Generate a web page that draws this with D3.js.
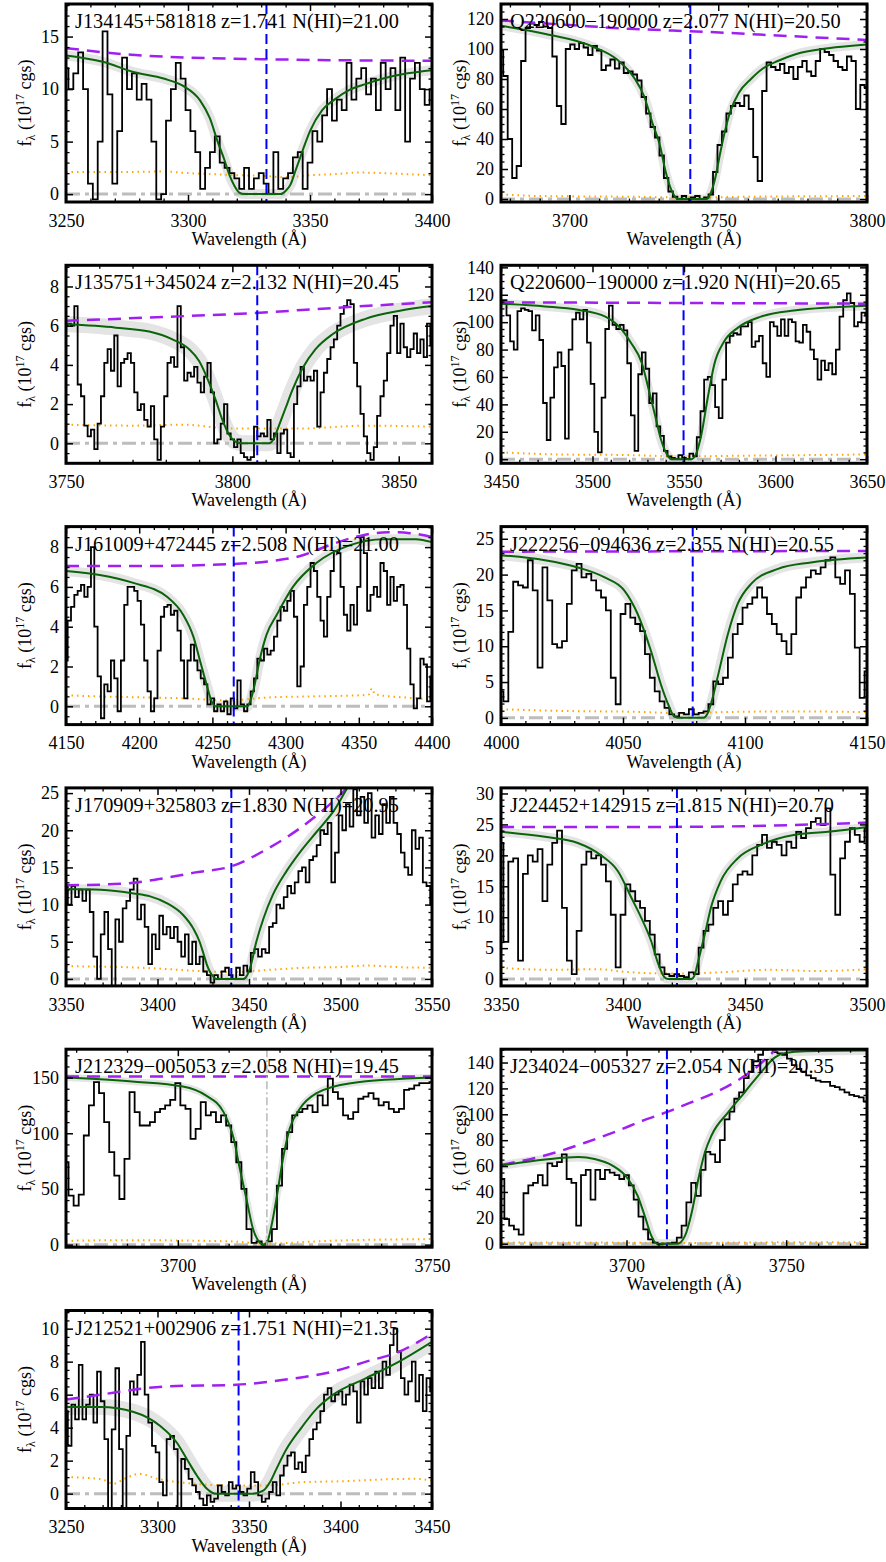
<!DOCTYPE html>
<html>
<head>
<meta charset="utf-8">
<script src="https://cdn.jsdelivr.net/npm/d3@7"></script>
<style>
  body { margin: 0; background: #fff; }
  svg text { font-family: "Liberation Serif", "Times New Roman", serif; fill: #000; }
</style>
</head>
<body>
<svg id="chart"></svg>
<script>
const LYA_REST = 1215.67

// one entry per panel, reading order (left to right, top to bottom)
const QSO_NAMES = ['J134145+581818', 'Q220600\u2212190000', 'J135751+345024', 'Q220600\u2212190000', 'J161009+472445',
  'J222256\u2212094636', 'J170909+325803', 'J224452+142915', 'J212329\u2212005053', 'J234024\u2212005327', 'J212521+002906']
const ABS_Z = [1.741, 2.077, 2.132, 1.920, 2.508, 2.355, 1.830, 1.815, 2.058, 2.054, 1.751]
const LOG_NHI = [21.00, 20.50, 20.45, 20.65, 21.00, 20.55, 20.95, 20.70, 19.45, 20.35, 21.35]

const X_RANGES = [[3250, 3400], [3677, 3800], [3750, 3860], [3450, 3650], [4150, 4400], [4000, 4150],
  [3350, 3550], [3350, 3500], [3678, 3750], [3660.7, 3775.3], [3250, 3450]]
const Y_RANGES = [[-0.75, 18.1], [-2, 130], [-1.02, 9.08], [-3, 141.5], [-0.92, 9.03], [-0.94, 26.7],
  [-0.94, 25.7], [-1.1, 30.9], [-2.3, 175.5], [-2.7, 150.3], [-0.9, 11.1]]
const X_TICKS = [[3250, 3300, 3350, 3400], [3700, 3750, 3800], [3750, 3800, 3850], [3450, 3500, 3550, 3600, 3650],
  [4150, 4200, 4250, 4300, 4350, 4400], [4000, 4050, 4100, 4150], [3350, 3400, 3450, 3500, 3550],
  [3350, 3400, 3450, 3500], [3700, 3750], [3700, 3750], [3250, 3300, 3350, 3400, 3450]]
const Y_TICKS = [[0, 5, 10, 15], [0, 20, 40, 60, 80, 100, 120], [0, 2, 4, 6, 8], [0, 20, 40, 60, 80, 100, 120, 140],
  [0, 2, 4, 6, 8], [0, 5, 10, 15, 20, 25], [0, 5, 10, 15, 20, 25], [0, 5, 10, 15, 20, 25, 30],
  [0, 50, 100, 150], [0, 20, 40, 60, 80, 100, 120, 140], [0, 2, 4, 6, 8, 10]]
const X_MINOR = [10, 10, 10, 10, 10, 10, 10, 10, 10, 10, 10]
const Y_MINOR = [1, 5, 0.5, 5, 0.5, 1, 1, 1, 10, 5, 0.5]

// spectra: wavelength of first pixel, pixel width (A), flux (1e-17 cgs)
const SPEC_START = [3250, 3677, 3750, 3450, 4150, 4000, 3350, 3350, 3678, 3661, 3250]
const SPEC_STEP = [2, 1.5, 1, 2, 2.2727, 2, 2, 2, 1, 1.5, 2]

const FLUX_1 = [12, 10, 11.5, 13.5, 10, 1, -0.5, 5, 15.5, 9.5, 1, 6, 13, 10, 11.5, 9, 10.5, 9, 5, -0.5,
  0, 7, 10, 12.5, 11, 8, 6, 4, 0.5, 2.5, 4, 5.5, 3, 2.5, 2, 1.5, 0.5, 2.5, 0.5, 1.5,
  2, 1, 0, 4, 0.5, 1.5, 2, 3.5, 4, 0.5, 3, 6, 5, 7.5, 10, 7, 9, 8, 12.5, 9,
  11, 12, 9.5, 11, 8, 12.5, 10, 12, 8, 13, 5, 11, 12.5, 10, 8.5, 10]
const FLUX_2 = [99, 82, 40, 14, 22, 92, 114, 117, 116, 118, 115, 114, 95, 62, 50, 100, 103, 100, 104, 101,
  96, 102, 99, 86, 89, 93, 87, 91, 84, 85, 83, 79, 68, 57, 48, 41, 29, 14, 5, 1.5,
  0, 2, 0, 1, 2, 0, 1, 3, 18, 36, 45, 57, 62, 64, 62, 69, 60, 28, 12, 72,
  91, 88, 86, 90, 84, 88, 80, 88, 92, 85, 82, 92, 100, 98, 96, 92, 88, 86, 95, 92, 60, 76, 74]
const FLUX_3 = [6.0, 6.1, 6.0, 7.0, 3.0, 2.4, 0.9, 0.35, 0.7, -0.3, 1.0, 2.4, 4.1, 4.8, 3.7, 5.5, 2.9, 4.1, 4.3, 4.6,
  4.1, 2.6, 1.7, 2.0, 1.2, 0.85, 1.9, 0.2, -0.85, 0.85, 2.4, 4.1, 4.4, 3.9, 7.0, 4.9, 3.2, 3.6, 3.4, 3.9,
  3.1, 2.6, 3.4, 4.1, 2.6, 0, 0.2, 1.0, 2.0, 0.5, 0.2, -0.2, 0.2, -0.5, -0.7, -0.85, -0.7, 0.85, 0.35, 0.5,
  0.35, 1.2, 0.2, 0.5, -0.5, 0.5, 0.7, -0.5, -0.7, 2.0, 2.9, 3.9, 3.2, 3.4, 3.2, 3.7, 0.85, 2.6, 3.6, 4.3,
  4.9, 5.3, 6.0, 6.6, 7.0, 7.3, 7.1, 4.1, 2.9, 1.5, 0.35, -0.5, -0.85, -0.2, 1.4, 2.4, 3.2, 4.6, 6.0, 6.5,
  4.6, 6.1, 4.9, 4.4, 4.8, 5.6, 4.6, 5.3, 4.4, 6.1, 5.0]
const FLUX_4 = [114, 116, 105, 86, 80, 108, 110, 109, 108, 94, 105, 87, 41, 14, 45, 67, 78, 68, 15, 80,
  102, 107, 102, 109, 85, 55, 20, 5, 45, 95, 112, 98, 95, 98, 94, 70, 32, 6, 62, 78,
  66, 41, 48, 24, 17, 6, 2, 1, 0, 3, 1, 0, 4, 2, 16, 35, 58, 60, 54, 38,
  30, 58, 85, 90, 92, 91, 97, 97, 100, 82, 86, 90, 70, 60, 100, 97, 90, 102, 90, 102,
  100, 86, 85, 98, 93, 80, 73, 58, 72, 65, 70, 62, 80, 104, 116, 121, 114, 97, 100, 107, 105]
const FLUX_5 = [2.3, 4.3, 5.0, 5.6, 5.8, 6.1, 5.5, 6.0, 8.0, 4.0, 1.5, -0.6, 1.1, 0.75, 2.3, 1.4, -0.25, 2.3, 5.1, 6.0,
  6.0, 5.8, 5.3, 4.1, 2.3, 0.75, -0.25, 0.4, 2.8, 4.5, 5.0, 5.1, 4.6, 4.8, 3.8, 2.3, 0.4, 2.3, 3.1, 2.3,
  1.8, 1.4, 1.1, 0.1, 0.4, -0.25, 0.1, -0.25, 0.25, -0.4, 0.4, -0.1, 1.3, 0.1, -0.25, 0.1, 0.75, 1.4, 2.4, 2.3,
  2.9, 2.6, 2.8, 3.5, 4.3, 5.0, 4.8, 5.3, 5.8, 4.5, 1.0, 2.0, 5.1, 6.0, 7.2, 6.8, 5.5, 4.3, 3.5, 5.5,
  6.8, 7.8, 7.7, 6.0, 4.6, 3.8, 5.1, 4.1, 6.0, 8.5, 7.7, 4.8, 5.6, 6.0, 5.5, 7.2, 6.8, 5.1, 6.5, 5.3,
  6.0, 6.1, 5.1, 2.9, 1.1, -0.1, 0.4, 2.4, 2.1, 0.25, 1.5]
const FLUX_6 = [3.7, 2.3, 12, 19, 18.5, 18.2, 22, 17.8, 7, 21, 16.4, 10.3, 9.8, 10.7, 15.9, 20.6, 21.5, 19.6, 20.1, 19.2,
  17.8, 16.8, 15, 5.6, 1.9, 14.5, 15.9, 14, 13.1, 12.1, 8.9, 5.6, 3.7, 2.3, 1.4, 0.5, 0.2, 0.7, 0.5, 1.2,
  0.5, 0.7, 0.9, 1.9, 5.1, 4.7, 5.6, 8.4, 11.7, 13.1, 15.4, 15.9, 16.8, 18.2, 16.8, 14.5, 13.1, 11.7, 10.7, 8.9,
  11.7, 16.8, 18.2, 19.6, 20.6, 20.1, 21, 22, 22.4, 19.6, 18.7, 20.6, 17.3, 9.8, 2.8, 6.5]
const FLUX_7 = [12.5, 10, 12.5, 11, 12, 10.5, 12, 9, 3, 0, 6, 9, 4, -1, 8, 5, 9.5, 10.5, 12, 13.5,
  8, 10, 7, 2, 6, 4, 8.5, 6, 7, 5.5, 7, 5, 3, 6, 2, 5, 2, 3, 1, 0.5,
  -0.5, 0.5, 0, 1, 1.5, 0.5, 0, 1.5, 0.5, 1.8, 1, 3.5, 4, 3, 4, 3.5, 7, 7.5, 10, 9.5,
  11, 12.5, 11.5, 13, 14.5, 15, 13, 16, 16.5, 18, 20, 19.5, 21, 13, 17, 22, 20, 23.5, 20.5, 25.5,
  22, 24.5, 21, 25, 19, 22, 19.5, 23.5, 21, 24.5, 21, 19.5, 17, 15, 14, 20, 17.5, 19, 13, 12.5, 10]
const FLUX_8 = [22, 6, 19, 19.5, 3, 17, 20, 19, 21, 12.6, 18.5, 22, 24, 11.5, 3, 0.8, 7.8, 18.5, 20.6, 19.5,
  20, 18.5, 15.8, 10.4, 1.9, 10.4, 15.3, 14.2, 12.6, 11.5, 9.4, 7.2, 4, 1.9, 0.8, 0.5, 0.8, 0.5, 0.3, 1.1,
  0.8, 5.1, 7.8, 8.8, 11.5, 12.6, 10.4, 12.6, 15.3, 16.9, 17.4, 16.9, 20, 21.7, 23.3, 21.2, 22.2, 21.7, 20, 22.2,
  21.2, 23.8, 22.8, 24.4, 25.4, 26, 24.9, 27.6, 16.9, 10.4, 19.5, 22.2, 24.4, 23.3, 22.2, 24.4]
const FLUX_9 = [74, 44, 35, 45, 98, 125, 146, 136, 110, 83, 62, 41, 77, 137, 119, 107, 107, 110, 119, 122,
  125, 130, 145, 125, 122, 95, 104, 128, 116, 119, 110, 116, 107, 92, 74, 50, 14, 1.5, 3, 0,
  3, 14, 53, 86, 101, 116, 119, 122, 125, 119, 134, 125, 149, 137, 131, 116, 113, 119, 131, 133,
  136, 131, 125, 128, 122, 119, 122, 139, 140, 143, 145, 145, 146]
const FLUX_10 = [50, 19, 14, 11, 7, 39, 45, 47, 53, 45, 62, 60, 63, 69, 50, 47, 14, 53, 57, 34,
  57, 50, 57, 55, 53, 50, 53, 45, 34, 21, 11, 3.4, 0.8, -0.5, 0, 0.3, 0.8, 4.7, 14, 32,
  47, 37, 57, 71, 69, 63, 80, 96, 102, 112, 117, 128, 133, 141, 146, 150, 151, 148, 147, 146,
  143, 138, 135, 133, 130, 128, 126, 125, 125, 122, 121, 119, 117, 115, 114, 113, 110]
const FLUX_11 = [5, 2.9, 5.4, 4.5, 7.8, 4.5, 5.4, 6, 4.3, 7.4, 5.6, 3.3, -0.9, 3.9, 7.6, 2.7, -0.9, 3.5, 6.8, 6,
  7.2, 9.2, 6, 4.3, 2.9, 2.5, 0.7, -0.1, 3.3, 3.5, 2.7, -0.9, 2.1, 1.5, 0.9, 0.5, 0.1, -0.3, -0.7, -0.1,
  -0.5, -0.3, 0.5, 0.1, -0.1, 0.7, 0.3, 0.5, 0.1, -0.1, 0.3, 1.3, 0.7, -0.1, -0.5, -0.3, 0.1, 0.7, -0.1, 1.1,
  1.7, 2.3, 2.5, 1.5, 1.9, 1.3, 2.3, 3.3, 3.9, 4.3, 5, 6, 6.4, 5.6, 6, 6.2, 5.4, 6, 6.6, 6.2,
  4.3, 6.8, 6, 7, 6.4, 7.4, 6.4, 8, 7.2, 9, 10, 8.6, 7, 6, 6.8, 8, 5.6, 7.2, 5, 7, 6.2]

// quasar continuum (purple), [wavelength, flux]
const CONT_1 = [[3250, 13.9], [3275, 13.3], [3300, 13.0], [3330, 12.85], [3360, 12.75], [3400, 12.7]]
const CONT_2 = [[3677, 119], [3700, 116], [3720, 113.5], [3745, 111.5], [3770, 109], [3800, 106]]
const CONT_3 = [[3750, 6.25], [3780, 6.45], [3807, 6.65], [3830, 6.9], [3860, 7.2]]
const CONT_4 = [[3450, 114.5], [3550, 114], [3650, 113.5]]
const CONT_5 = [[4150, 7.05], [4200, 7.05], [4265, 7.15], [4290, 7.3], [4310, 7.55], [4330, 8.1], [4350, 8.55], [4370, 8.75], [4385, 8.7], [4400, 8.5]]
const CONT_6 = [[4000, 23.2], [4150, 23.3]]
const CONT_7 = [[3350, 12.6], [3380, 12.8], [3400, 13.4], [3420, 14.3], [3441, 15.2], [3460, 17.5], [3478, 20.3], [3490, 22.6], [3500, 24.8], [3510, 27.5]]
const CONT_8 = [[3350, 24.6], [3420, 24.6], [3470, 24.9], [3500, 25.3]]
const CONT_9 = [[3678, 150.9], [3750, 150.9]]
const CONT_10 = [[3661, 61], [3675, 68.5], [3687, 78], [3697, 87], [3705, 95], [3713, 102], [3720, 109], [3727, 116], [3734, 125], [3740, 135], [3745, 146], [3750, 158]]
const CONT_11 = [[3250, 5.7], [3269, 6.0], [3287, 6.3], [3305, 6.5], [3343, 6.6], [3369, 6.9], [3396, 7.4], [3414, 8.0], [3432, 8.6], [3450, 9.7]]

// DLA Voigt model (green), [wavelength, flux]
const MODEL_1 = [[3250, 13.2], [3265, 12.6], [3278, 11.6], [3290, 11.0], [3298, 10.3], [3305, 8.9], [3309, 7.2], [3312, 5.1], [3315, 3.2], [3317, 1.8], [3319, 0.8], [3321, 0.15], [3323, 0],
  [3338, 0], [3340, 0.3], [3342, 0.9], [3344, 2.2], [3346, 3.5], [3348, 4.8], [3350, 6.0], [3355, 8.0], [3360, 9.0], [3366, 9.9], [3373, 10.5], [3380, 11.0], [3390, 11.5], [3400, 11.8]]
const MODEL_2 = [[3677, 115.5], [3692, 110], [3708, 101.5], [3716, 93], [3722, 80], [3725, 69], [3728, 50], [3730.5, 35], [3732, 21], [3733.5, 10], [3735, 3], [3736.5, 0],
  [3746, 0], [3747.5, 4], [3749, 14], [3750.5, 29], [3752, 43], [3754, 58], [3757, 71], [3761, 80], [3765, 87], [3770, 92], [3776, 96.5], [3787, 100.5], [3800, 103]]
const MODEL_3 = [[3750, 6.08], [3765, 5.9], [3775, 5.7], [3782, 5.3], [3787, 4.8], [3790, 4.2], [3793, 3.1], [3795, 2.2], [3797, 1.2], [3799, 0.45], [3801, 0.08], [3803, 0],
  [3811, 0], [3812.5, 0.25], [3814, 0.9], [3816, 1.8], [3818, 2.7], [3821, 3.8], [3825, 4.8], [3830, 5.55], [3840, 6.35], [3850, 6.75], [3860, 7.0]]
const MODEL_4 = [[3450, 113.5], [3474, 111.5], [3492, 109], [3507, 104], [3516, 94.5], [3521, 85], [3527, 70], [3530.5, 52], [3534, 33], [3537.5, 14], [3540.5, 4], [3543, 0],
  [3554, 0], [3556.5, 3.5], [3559.5, 18], [3563, 45], [3566.5, 69], [3572, 86], [3579.5, 96], [3592, 104], [3610, 108.5], [3650, 112]]
const MODEL_5 = [[4150, 6.8], [4173, 6.6], [4196, 6.2], [4219, 5.5], [4230, 4.6], [4237, 3.5], [4241.5, 2.3], [4246, 1.1], [4249.5, 0.25], [4252, 0],
  [4274, 0], [4276, 0.3], [4278, 0.8], [4282.5, 2.4], [4287, 3.6], [4294, 4.6], [4305, 6.0], [4321, 7.2], [4344, 8.1], [4367, 8.4], [4389, 8.4], [4400, 8.25]]
const MODEL_6 = [[4000, 22.7], [4018, 22], [4031.5, 21], [4042.5, 19.6], [4050.5, 17.8], [4056, 14.5], [4061.5, 9.3], [4065.5, 4.7], [4068.5, 1.9], [4071, 0.2], [4073, 0],
  [4083, 0], [4084.5, 0.5], [4086, 1.9], [4089, 6], [4093, 11.7], [4097, 15.9], [4102.5, 18.7], [4113.5, 20.8], [4127, 21.7], [4150, 22.4]]
const MODEL_7 = [[3350, 12.1], [3369, 12.0], [3387, 11.5], [3396, 11.1], [3405, 10.2], [3414, 8.6], [3419.5, 6.8], [3423, 5.0], [3425, 3.5], [3427, 1.9], [3430.5, 0.3], [3432, 0],
  [3447, 0], [3449, 0.5], [3450.5, 1.4], [3454, 5.0], [3458, 8.2], [3463, 11.3], [3470.5, 14.5], [3478, 17.1], [3487, 19.8], [3496, 22.5], [3505, 26.2], [3510, 28]]
const MODEL_8 = [[3350, 23.8], [3368, 23], [3381.5, 22], [3391, 20], [3398, 17.4], [3403.5, 13.1], [3407.5, 9.9], [3411.5, 6.2], [3414.5, 2.4], [3417, 0.3], [3418.5, 0],
  [3428, 0], [3429.5, 0.8], [3430.5, 2.4], [3433.5, 7.2], [3436, 11.5], [3440, 15.8], [3447, 19.5], [3456.5, 21.7], [3470, 23.3], [3484, 23.8], [3500, 24.6]]
const MODEL_9 = [[3678, 150], [3691, 146.5], [3701, 142], [3705.5, 134], [3709, 119], [3711, 95], [3712.2, 68], [3713.5, 41], [3714.8, 14], [3716.2, 1.5], [3716.8, 0],
  [3717.5, 1.5], [3718.4, 16.5], [3719.5, 44], [3720.8, 80], [3722, 104], [3724, 122], [3727.3, 136], [3734, 145], [3750, 150]]
const MODEL_10 = [[3661, 60.5], [3674.5, 65], [3685, 67], [3690, 65.5], [3695.5, 60.5], [3700.5, 50], [3703.5, 37], [3705.7, 21.5], [3707.8, 6], [3709.5, 0],
  [3716, 0], [3718.3, 6], [3720.4, 24], [3722.5, 50], [3724.6, 71], [3726.7, 84], [3732, 102], [3737, 117], [3742.3, 133], [3746.5, 144], [3750, 147.5], [3756, 148.8], [3775, 149.3]]
const MODEL_11 = [[3250, 5.25], [3269, 5.25], [3287, 4.95], [3301.5, 4.1], [3310.5, 3.1], [3316, 2.1], [3321.5, 1.1], [3327, 0.3], [3332, 0],
  [3352, 0], [3358, 0.2], [3361.5, 0.7], [3365, 1.5], [3370.5, 2.7], [3378, 3.9], [3387, 5.15], [3396, 6.0], [3414, 7.0], [3432, 8.0], [3450, 9.2]]

// 1-sigma flux error (orange), [wavelength, flux]
const ERR_1 = [[3250, 2.1], [3270, 2.1], [3290, 2.15], [3300, 2.0], [3310, 1.9], [3320, 1.8], [3330, 1.75], [3340, 1.6], [3350, 1.8], [3360, 1.9], [3370, 2.05], [3380, 2.0], [3390, 1.9], [3400, 1.8]]
const ERR_2 = [[3677, 3], [3690, 2], [3720, 1.5], [3740, 1], [3760, 1.5], [3800, 2]]
const ERR_3 = [[3750, 0.95], [3770, 0.9], [3785, 0.95], [3800, 0.75], [3820, 0.75], [3840, 0.9], [3860, 0.85]]
const ERR_4 = [[3450, 5], [3480, 3.5], [3520, 3], [3550, 2], [3580, 2.5], [3620, 3], [3650, 3.5]]
const ERR_5 = [[4150, 0.55], [4170, 0.5], [4200, 0.45], [4230, 0.4], [4260, 0.3], [4290, 0.45], [4320, 0.5], [4350, 0.55], [4357, 0.6], [4359, 0.9], [4361, 0.6], [4380, 0.45], [4400, 0.35]]
const ERR_6 = [[4000, 1.2], [4020, 1.0], [4060, 0.8], [4075, 0.6], [4090, 0.8], [4120, 0.9], [4150, 0.8]]
const ERR_7 = [[3350, 1.7], [3380, 1.6], [3400, 1.4], [3420, 1.1], [3440, 0.9], [3460, 1.2], [3480, 1.5], [3500, 1.6], [3515, 1.8], [3530, 1.6], [3550, 1.5]]
const ERR_8 = [[3350, 1.8], [3370, 1.5], [3390, 1.6], [3400, 1.2], [3420, 0.9], [3440, 1.1], [3460, 1.5], [3480, 1.3], [3500, 1.6]]
const ERR_9 = [[3678, 3.5], [3690, 4], [3710, 3], [3717, 1], [3730, 3.5], [3750, 5]]
const ERR_10 = [[3661, 1], [3700, 0.8], [3713, 0.5], [3740, 1], [3775, 1.2]]
const ERR_11 = [[3250, 1.0], [3262, 0.95], [3270, 0.85], [3276, 0.6], [3282, 0.9], [3290, 1.2], [3300, 0.9], [3320, 0.6], [3340, 0.5], [3360, 0.5], [3380, 0.7], [3400, 0.75], [3420, 0.85], [3440, 0.9], [3450, 0.8]]

const FLUXES = [FLUX_1, FLUX_2, FLUX_3, FLUX_4, FLUX_5, FLUX_6, FLUX_7, FLUX_8, FLUX_9, FLUX_10, FLUX_11]
const CONTS = [CONT_1, CONT_2, CONT_3, CONT_4, CONT_5, CONT_6, CONT_7, CONT_8, CONT_9, CONT_10, CONT_11]
const MODELS = [MODEL_1, MODEL_2, MODEL_3, MODEL_4, MODEL_5, MODEL_6, MODEL_7, MODEL_8, MODEL_9, MODEL_10, MODEL_11]
const ERRS = [ERR_1, ERR_2, ERR_3, ERR_4, ERR_5, ERR_6, ERR_7, ERR_8, ERR_9, ERR_10, ERR_11]

const LAYOUT = { width: 886, height: 1562, cols: [66, 501], top: 4, pitch: 261.3, w: 366, h: 198 }
const FONT = '"Liberation Serif", "Times New Roman", serif'
const BAND_WIDTH = [10, 9, 16, 9, 10, 10, 10, 9, 7, 9, 16]

const svg = d3.select('#chart')
  .attr('width', LAYOUT.width)
  .attr('height', LAYOUT.height)

QSO_NAMES.forEach((name, i) => drawPanel(i))

function drawPanel(i) {
  const left = LAYOUT.cols[i % 2]
  const top = LAYOUT.top + Math.floor(i / 2) * LAYOUT.pitch
  const w = LAYOUT.w, h = LAYOUT.h

  const g = svg.append('g').attr('transform', `translate(${left},${top})`)
  const xScale = d3.scaleLinear().domain(X_RANGES[i]).range([0, w])
  const yScale = d3.scaleLinear().domain(Y_RANGES[i]).range([h, 0])

  g.append('clipPath').attr('id', 'clip' + i)
    .append('rect').attr('width', w).attr('height', h)
  const plot = g.append('g').attr('clip-path', `url(#clip${i})`)

  const smooth = d3.line().x(d => xScale(d[0])).y(d => yScale(d[1])).curve(d3.curveMonotoneX)
  const steps = d3.line().x(d => xScale(d[0])).y(d => yScale(d[1])).curve(d3.curveStep)

  // model uncertainty band
  plot.append('path')
    .attr('d', smooth(MODELS[i]))
    .attr('fill', 'none')
    .attr('stroke', '#e4e4e4')
    .attr('stroke-width', BAND_WIDTH[i])
    .attr('stroke-linejoin', 'round')

  // zero level
  plot.append('line')
    .attr('x1', 0).attr('x2', w)
    .attr('y1', yScale(0)).attr('y2', yScale(0))
    .attr('stroke', '#bdbdbd')
    .attr('stroke-width', 3)
    .attr('stroke-dasharray', '14,5,4,5')

  plot.append('path')
    .attr('d', smooth(ERRS[i]))
    .attr('fill', 'none')
    .attr('stroke', '#ffa500')
    .attr('stroke-width', 2)
    .attr('stroke-dasharray', '1.5,4')

  const spectrum = FLUXES[i].map((f, k) => [SPEC_START[i] + k * SPEC_STEP[i], f])
  plot.append('path')
    .attr('d', steps(spectrum))
    .attr('fill', 'none')
    .attr('stroke', '#000')
    .attr('stroke-width', 1.8)

  plot.append('path')
    .attr('d', smooth(CONTS[i]))
    .attr('fill', 'none')
    .attr('stroke', '#a020f0')
    .attr('stroke-width', 2.5)
    .attr('stroke-dasharray', '13,8')

  plot.append('path')
    .attr('d', smooth(MODELS[i]))
    .attr('fill', 'none')
    .attr('stroke', '#0a640a')
    .attr('stroke-width', 2)

  // Lya centroid of the absorber
  const lineCenter = xScale(LYA_REST * (1 + ABS_Z[i]))
  const fixedCentroid = i === 8
  plot.append('line')
    .attr('x1', lineCenter).attr('x2', lineCenter)
    .attr('y1', 0).attr('y2', h)
    .attr('stroke', fixedCentroid ? '#b8b8b8' : '#0000ff')
    .attr('stroke-width', fixedCentroid ? 1.5 : 2)
    .attr('stroke-dasharray', fixedCentroid ? '8,3,2,3' : '10,5')

  g.append('text')
    .attr('x', 9)
    .attr('y', 24)
    .attr('font-size', 20.3)
    .text(`${QSO_NAMES[i]} z=${ABS_Z[i].toFixed(3)} N(HI)=${LOG_NHI[i].toFixed(2)}`)

  drawAxes(g, i, xScale, yScale)

  g.append('rect')
    .attr('width', w).attr('height', h)
    .attr('fill', 'none')
    .attr('stroke', '#000')
    .attr('stroke-width', 3)

  g.append('text')
    .attr('x', w / 2)
    .attr('y', h + 43)
    .attr('text-anchor', 'middle')
    .attr('font-size', 18)
    .text('Wavelength (\u00c5)')

  const ylab = g.append('text')
    .attr('transform', `translate(-35, ${h / 2}) rotate(-90)`)
    .attr('text-anchor', 'middle')
    .attr('font-size', 18)
  ylab.append('tspan').text('f')
  ylab.append('tspan').attr('font-size', 12).attr('dy', 4).text('\u03bb')
  ylab.append('tspan').attr('dy', -4).text(' (10')
  ylab.append('tspan').attr('font-size', 12).attr('dy', -7).text('17')
  ylab.append('tspan').attr('dy', 7).text(' cgs)')
}

function minorValues(range, step, majors) {
  const start = Math.ceil(range[0] / step) * step
  return d3.range(start, range[1] + step * 0.01, step)
    .filter(v => !majors.some(m => Math.abs(m - v) < step * 0.01))
}

function drawAxes(g, i, xScale, yScale) {
  const w = LAYOUT.w, h = LAYOUT.h
  const xMinor = minorValues(X_RANGES[i], X_MINOR[i], X_TICKS[i])
  const yMinor = minorValues(Y_RANGES[i], Y_MINOR[i], Y_TICKS[i])

  const specs = [
    { axis: d3.axisBottom(xScale), major: X_TICKS[i], minor: xMinor, at: `translate(0,${h})`, labels: true, pad: 12 },
    { axis: d3.axisTop(xScale), major: X_TICKS[i], minor: xMinor, at: 'translate(0,0)', labels: false, pad: 0 },
    { axis: d3.axisLeft(yScale), major: Y_TICKS[i], minor: yMinor, at: 'translate(0,0)', labels: true, pad: 7 },
    { axis: d3.axisRight(yScale), major: Y_TICKS[i], minor: yMinor, at: `translate(${w},0)`, labels: false, pad: 0 }
  ]

  specs.forEach(s => {
    const major = s.axis.tickValues(s.major).tickSize(-7).tickPadding(s.pad)
      .tickFormat(s.labels ? d3.format('d') : '')
    const ax = g.append('g').attr('transform', s.at).call(major)
      .attr('font-family', FONT).attr('font-size', 18)
    ax.select('.domain').remove()
    ax.selectAll('line').attr('stroke-width', 1.5)

    const minorAxis = s.axis.tickValues(s.minor).tickSize(-3.5).tickFormat('')
    const mx = g.append('g').attr('transform', s.at).call(minorAxis)
    mx.select('.domain').remove()
    mx.selectAll('line').attr('stroke-width', 1.3)
  })
}
</script>
</body>
</html>
